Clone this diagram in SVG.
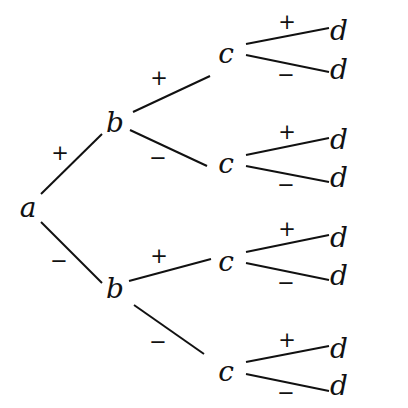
<svg xmlns="http://www.w3.org/2000/svg" width="408" height="408" viewBox="0 0 408 408">
<style>
.v{font-family:"DejaVu Serif","Liberation Serif",serif;font-style:italic;font-size:28px;fill:#111;text-anchor:middle}
.s{font-family:"DejaVu Sans","Liberation Sans",sans-serif;font-size:21px;fill:#111;text-anchor:middle;dominant-baseline:central}
#edges line{stroke:#111;stroke-width:2;stroke-linecap:butt}
</style>
<rect width="408" height="408" fill="#fff"/>
<g id="edges">
<line x1="41" y1="194" x2="102" y2="134"/>
<line x1="41" y1="222" x2="102" y2="283"/>
<line x1="133" y1="112" x2="210" y2="76"/>
<line x1="130" y1="130" x2="207" y2="166"/>
<line x1="129" y1="281" x2="211" y2="259"/>
<line x1="134" y1="305" x2="204" y2="354"/>
<line x1="246" y1="44" x2="329" y2="28"/>
<line x1="246" y1="55" x2="329" y2="72"/>
<line x1="246" y1="155" x2="329" y2="138"/>
<line x1="246" y1="166" x2="329" y2="182"/>
<line x1="246" y1="252" x2="329" y2="235"/>
<line x1="246" y1="263" x2="329" y2="280"/>
<line x1="246" y1="362" x2="329" y2="346"/>
<line x1="246" y1="374" x2="329" y2="391"/>
</g>
<g id="labels">
<text class="s" x="60" y="153">+</text>
<text class="s" x="59" y="261">−</text>
<text class="s" x="159" y="78">+</text>
<text class="s" x="158" y="158">−</text>
<text class="s" x="159" y="256">+</text>
<text class="s" x="158" y="342">−</text>
<text class="s" x="287" y="22">+</text>
<text class="s" x="286" y="75">−</text>
<text class="s" x="287" y="132">+</text>
<text class="s" x="286" y="185">−</text>
<text class="s" x="287" y="229">+</text>
<text class="s" x="286" y="283">−</text>
<text class="s" x="287" y="340">+</text>
<text class="s" x="286" y="393">−</text>
</g>
<g id="node-a"><text class="v" x="28" y="217">a</text></g>
<g id="node-b1"><text class="v" x="115" y="132">b</text></g>
<g id="node-b2"><text class="v" x="115" y="298">b</text></g>
<g id="node-c1"><text class="v" x="226" y="63">c</text></g>
<g id="node-c2"><text class="v" x="226" y="173">c</text></g>
<g id="node-c3"><text class="v" x="226" y="271">c</text></g>
<g id="node-c4"><text class="v" x="226" y="381">c</text></g>
<g id="node-d1"><text class="v" x="339" y="40">d</text></g>
<g id="node-d2"><text class="v" x="339" y="79">d</text></g>
<g id="node-d3"><text class="v" x="339" y="149">d</text></g>
<g id="node-d4"><text class="v" x="339" y="187">d</text></g>
<g id="node-d5"><text class="v" x="339" y="247">d</text></g>
<g id="node-d6"><text class="v" x="339" y="285">d</text></g>
<g id="node-d7"><text class="v" x="339" y="358">d</text></g>
<g id="node-d8"><text class="v" x="339" y="395">d</text></g>
</svg>
